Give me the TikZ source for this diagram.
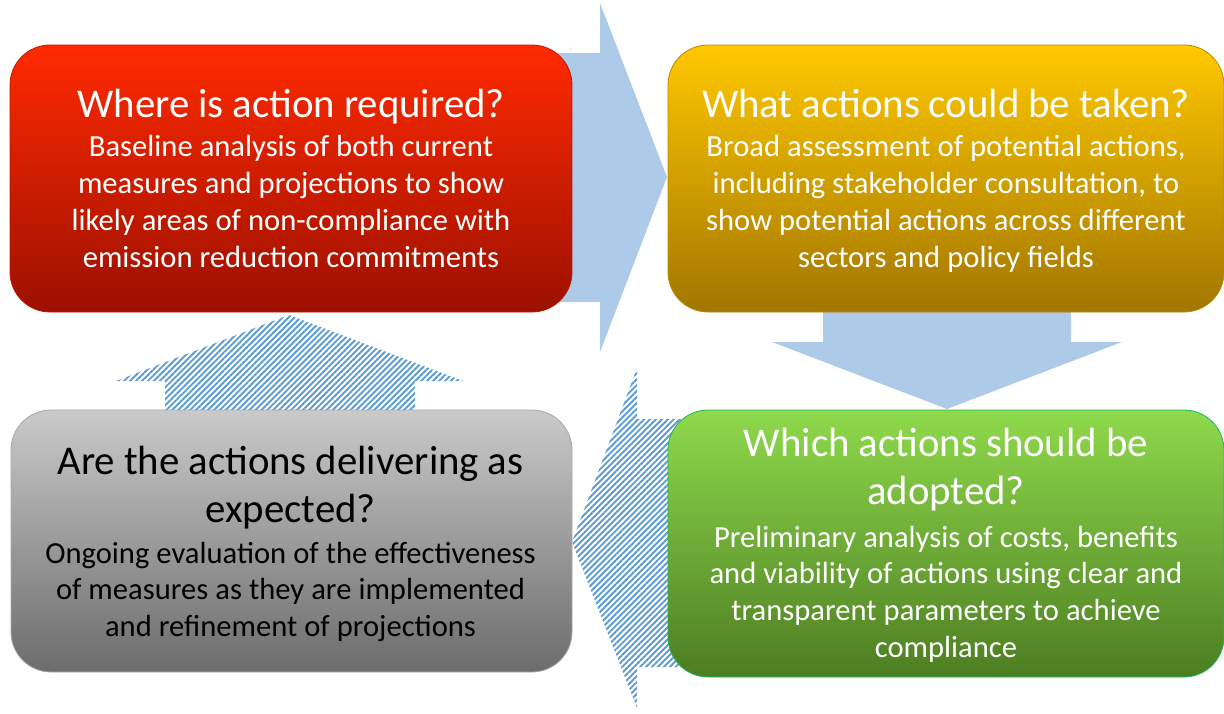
\documentclass[tikz,border=0pt]{standalone}
\usepackage{fontspec}
\setmainfont{Carlito}
\usetikzlibrary{patterns.meta}

\definecolor{flowblue}{HTML}{ADCBE8}
\definecolor{hatchblue}{HTML}{5B9BD5}
\definecolor{redtop}{HTML}{FF2A00}
\definecolor{redbot}{HTML}{9C1000}
\definecolor{redline}{HTML}{C01800}
\definecolor{goldtop}{HTML}{FFC800}
\definecolor{goldbot}{HTML}{A27600}
\definecolor{goldline}{HTML}{B88A00}
\definecolor{greentop}{HTML}{8FDA4C}
\definecolor{greenbot}{HTML}{4D7D22}
\definecolor{greenline}{HTML}{1FB860}
\definecolor{greytop}{HTML}{CACACA}
\definecolor{greybot}{HTML}{6C6C6C}
\definecolor{greyline}{HTML}{A8A8A8}

% card fonts, with fixed word spaces
\newcommand{\cardtitlefont}{\fontsize{40.8}{48}\selectfont\spaceskip 0.22em\relax}
\newcommand{\cardbodyfont}{\fontsize{30.6}{36.8}\selectfont\spaceskip 0.23em\relax}

\tikzset{
  card/.style={rounded corners=40pt, minimum height=267pt, inner sep=0pt,
    line width=0.8pt},
  titleline/.style={anchor=base, inner sep=0pt, font=\cardtitlefont},
  bodyline/.style={anchor=base, inner sep=0pt, font=\cardbodyfont},
  solidarrow/.style={fill=flowblue, draw=none},
  hatcharrow/.style={draw=none, pattern color=hatchblue,
    pattern={Lines[angle=45,distance=4.2pt,line width=1.9pt]}},
}

\begin{document}
\begin{tikzpicture}[x=1pt,y=-1pt]
\useasboundingbox (0,0) rectangle (1224,713);

% block arrows behind the cards
\fill[solidarrow] (556,53) -- (600,53) -- (600,3) -- (667,177) -- (600,352)
  -- (600,302) -- (556,302) -- cycle;
\fill[solidarrow] (823,300) -- (1071,300) -- (1071,342) -- (1122,342)
  -- (947,409) -- (772,342) -- (823,342) -- cycle;
\path[hatcharrow] (165,420) -- (165,381) -- (116,381) -- (289,315)
  -- (463,381) -- (415,381) -- (415,420) -- cycle;
\path[hatcharrow] (690,419) -- (637,419) -- (637,368) -- (572,542)
  -- (637,708) -- (637,667) -- (690,667) -- cycle;

% the four cards
\node[card, minimum width=562pt, top color=redtop, bottom color=redbot,
  draw=redline] (where) at (291,178.5) {};
\node[card, minimum width=556pt, top color=goldtop, bottom color=goldbot,
  draw=goldline] (what) at (946,178.5) {};
\node[card, minimum width=556pt, top color=greentop, bottom color=greenbot,
  draw=greenline] (which) at (946,543.5) {};
\node[card, minimum width=561pt, minimum height=262pt, top color=greytop,
  bottom color=greybot, draw=greyline] (are) at (291.5,541) {};

% texts, one node per line, placed on their baselines
\begin{scope}[text=white]
  \node[titleline] (where-t) at (291,117) {Where is action required?};
  \foreach \ln [count=\i from 0] in {{Baseline analysis of both current},
      {measures and projections to show},
      {likely areas of non-compliance with},
      {emission reduction commitments}}
    \node[bodyline] (where-b\i) at (291,{156.6+36.8*\i}) {\ln};

  \node[titleline] (what-t) at (946,117) {What actions could be taken?};
  \foreach \ln [count=\i from 0] in {{Broad assessment of potential actions,},
      {including stakeholder consultation, to},
      {show potential actions across different},
      {sectors and policy fields}}
    \node[bodyline] (what-b\i) at (946,{156.6+36.8*\i}) {\ln};

  \node[titleline] (which-t1) at (946,456.7) {Which actions should be};
  \node[titleline] (which-t2) at (946,504.7) {adopted?};
  \foreach \ln [count=\i from 0] in {{Preliminary analysis of costs, benefits},
      {and viability of actions using clear and},
      {transparent parameters to achieve},
      {compliance}}
    \node[bodyline] (which-b\i) at (946,{547+36.8*\i}) {\ln};
\end{scope}

\begin{scope}[text=black]
  \node[titleline] (are-t1) at (290.5,474) {Are the actions delivering as};
  \node[titleline] (are-t2) at (290.5,522) {expected?};
  \foreach \ln [count=\i from 0] in {{Ongoing evaluation of the effectiveness},
      {of measures as they are implemented},
      {and refinement of projections}}
    \node[bodyline] (are-b\i) at (290.5,{563.1+36.8*\i}) {\ln};
\end{scope}
\end{tikzpicture}
\end{document}
